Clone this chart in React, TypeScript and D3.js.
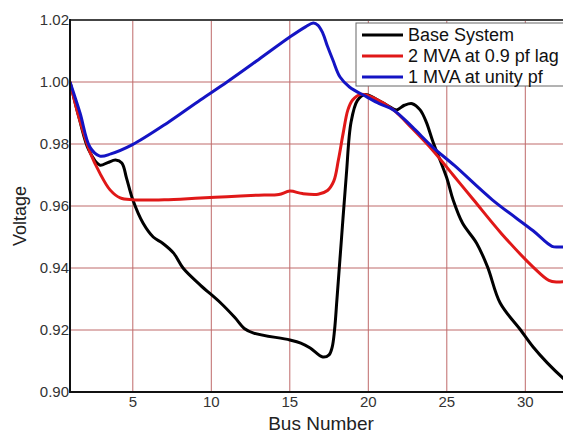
import { useEffect, useRef } from "react";
import * as d3 from "d3";

// Base system voltage profile
const baseBus = [1, 1.6, 2.2, 2.9, 3.4, 3.9, 4.3, 4.6, 5.0, 5.65, 6.3, 6.9, 7.6, 8.2, 9.3, 10.6, 11.5, 12.1, 12.7, 15.0, 15.7, 16.3, 17.1, 17.5, 17.7, 17.85, 18.0, 18.3, 18.6, 18.9, 19.3, 19.8, 20.5, 21.2, 21.8, 22.3, 22.8, 23.3, 23.7, 24.1, 25.0, 25.4, 26.0, 26.9, 27.6, 28.4, 29.7, 30.5, 31.4, 32.4, 33];
const baseV = [1.0, 0.988, 0.978, 0.9732, 0.974, 0.9748, 0.9739, 0.969, 0.962, 0.9545, 0.95, 0.948, 0.9448, 0.94, 0.9345, 0.9287, 0.924, 0.9205, 0.919, 0.9168, 0.9158, 0.9142, 0.9113, 0.912, 0.9145, 0.92, 0.9297, 0.95, 0.97, 0.987, 0.994, 0.996, 0.9945, 0.9925, 0.991, 0.9925, 0.993, 0.991, 0.987, 0.981, 0.969, 0.962, 0.9545, 0.948, 0.9403, 0.9287, 0.92, 0.9145, 0.9094, 0.9045, 0.902];

// 2 MVA at 0.9 pf lag
const lagBus = [1, 1.6, 2.3, 2.9, 3.55, 4.2, 5.0, 7.0, 9.3, 11.0, 13.0, 14.3, 15.0, 15.8, 16.8, 17.4, 17.8, 18.1, 18.4, 18.7, 19.0, 19.5, 20.5, 21.6, 22.8, 24.1, 25.4, 26.7, 28.5, 30.5, 31.5, 32.0, 33];
const lagV = [1.0, 0.988, 0.977, 0.9706, 0.9652, 0.9626, 0.962, 0.962, 0.9626, 0.963, 0.9635, 0.9637, 0.9648, 0.964, 0.9638, 0.965, 0.968, 0.975, 0.9835, 0.991, 0.9942, 0.996, 0.9945, 0.991, 0.985, 0.978, 0.97, 0.962, 0.951, 0.9403, 0.936, 0.9355, 0.936];

// 1 MVA at unity pf
const unityBus = [1, 1.64, 2.27, 2.9, 3.6, 4.95, 7.2, 9.3, 11.0, 13.0, 15.0, 16.0, 16.5, 16.8, 17.1, 17.4, 17.75, 18.2, 18.8, 19.9, 20.7, 21.6, 22.8, 24.1, 25.5, 27.9, 30.5, 31.7, 32.2, 33];
const unityV = [1.0, 0.99, 0.979, 0.9761, 0.9768, 0.9797, 0.9868, 0.9942, 1.0, 1.0072, 1.0145, 1.0178, 1.019, 1.0183, 1.0158, 1.0115, 1.007, 1.0016, 0.9984, 0.9952, 0.993, 0.991, 0.9855, 0.979, 0.973, 0.962, 0.952, 0.947, 0.9468, 0.9468];

const xTicks = [5, 10, 15, 20, 25, 30];
const yTicks = [0.9, 0.92, 0.94, 0.96, 0.98, 1.0, 1.02];

const series = [
  { name: "Base System", color: "#000000", bus: baseBus, v: baseV },
  { name: "2 MVA at 0.9 pf lag", color: "#e01818", bus: lagBus, v: lagV },
  { name: "1 MVA at unity pf", color: "#1414c4", bus: unityBus, v: unityV },
];

export default function App() {
  const svgRef = useRef(null);

  useEffect(() => {
    document.body.style.margin = "0";
    const width = 563;
    const height = 434;
    const margin = { top: 20, left: 70, bottom: 392 };

    const svg = d3.select(svgRef.current).attr("width", width).attr("height", height);
    svg.selectAll("*").remove();

    const x = d3.scaleLinear().domain([1, 33]).range([margin.left, margin.left + 32 * 15.7]);
    const y = d3.scaleLinear().domain([0.9, 1.02]).range([margin.bottom, margin.top]);

    svg.append("rect").attr("width", width).attr("height", height).attr("fill", "#fff");

    // grid
    const grid = svg.append("g").attr("stroke", "#bf6a6a").attr("stroke-width", 1);
    grid
      .selectAll("line.v")
      .data(xTicks)
      .join("line")
      .attr("x1", (d) => x(d))
      .attr("x2", (d) => x(d))
      .attr("y1", y(1.02))
      .attr("y2", y(0.9));
    grid
      .selectAll("line.h")
      .data(yTicks.slice(1, -1))
      .join("line")
      .attr("class", "h")
      .attr("x1", x(1))
      .attr("x2", width)
      .attr("y1", (d) => y(d))
      .attr("y2", (d) => y(d));

    // frame
    svg.append("line").attr("x1", x(1)).attr("x2", width).attr("y1", y(1.02)).attr("y2", y(1.02))
      .attr("stroke", "#444").attr("stroke-width", 2);

    // series
    const clip = svg.append("clipPath").attr("id", "plotclip");
    clip.append("rect").attr("x", x(1)).attr("y", y(1.02)).attr("width", width - x(1)).attr("height", y(0.9) - y(1.02));

    const line = d3
      .line<[number, number]>()
      .x((d) => x(d[0]))
      .y((d) => y(d[1]))
      .curve(d3.curveCatmullRom.alpha(0.5));

    const plot = svg.append("g").attr("clip-path", "url(#plotclip)");
    series.forEach((s) => {
      const pts = s.bus.map((b, i) => [b, s.v[i]] as [number, number]);
      plot.append("path").attr("d", line(pts)).attr("fill", "none").attr("stroke", s.color)
        .attr("stroke-width", 3).attr("stroke-linejoin", "round");
    });

    // axes
    svg.append("line").attr("x1", x(1)).attr("x2", x(1)).attr("y1", y(1.02) - 1).attr("y2", y(0.9) + 1)
      .attr("stroke", "#111").attr("stroke-width", 2);
    svg.append("line").attr("x1", x(1) - 1).attr("x2", width).attr("y1", y(0.9)).attr("y2", y(0.9))
      .attr("stroke", "#111").attr("stroke-width", 2);

    svg
      .append("g")
      .selectAll("text")
      .data(yTicks)
      .join("text")
      .attr("x", x(1) - 1)
      .attr("y", (d) => y(d))
      .attr("dy", "0.36em")
      .attr("text-anchor", "end")
      .attr("font-family", "Liberation Sans, Arial, sans-serif")
      .attr("font-size", 15)
      .attr("fill", "#333")
      .text((d) => d.toFixed(2));

    svg
      .append("g")
      .selectAll("text")
      .data(xTicks)
      .join("text")
      .attr("x", (d) => x(d))
      .attr("y", y(0.9) + 15)
      .attr("text-anchor", "middle")
      .attr("font-family", "Liberation Sans, Arial, sans-serif")
      .attr("font-size", 15)
      .attr("fill", "#333")
      .text((d) => d);

    svg.append("text").attr("x", 321).attr("y", 430).attr("text-anchor", "middle")
      .attr("font-family", "Liberation Sans, Arial, sans-serif").attr("font-size", 19).attr("fill", "#222")
      .text("Bus Number");
    svg.append("text").attr("transform", "translate(26,216) rotate(-90)").attr("text-anchor", "middle")
      .attr("font-family", "Liberation Sans, Arial, sans-serif").attr("font-size", 18).attr("fill", "#222")
      .text("Voltage");

    // legend
    const lg = svg.append("g").attr("transform", "translate(356,23)");
    lg.append("rect").attr("width", 220).attr("height", 63).attr("fill", "#fff")
      .attr("stroke", "#666").attr("stroke-width", 1);
    series.forEach((s, i) => {
      const cy = 12 + i * 21;
      lg.append("line").attr("x1", 6).attr("x2", 47).attr("y1", cy).attr("y2", cy)
        .attr("stroke", s.color).attr("stroke-width", 3);
      lg.append("text").attr("x", 52).attr("y", cy).attr("dy", "0.36em")
        .attr("font-family", "Liberation Sans, Arial, sans-serif").attr("font-size", 18).attr("fill", "#111")
        .text(s.name);
    });
  }, []);

  return <svg ref={svgRef}></svg>;
}
